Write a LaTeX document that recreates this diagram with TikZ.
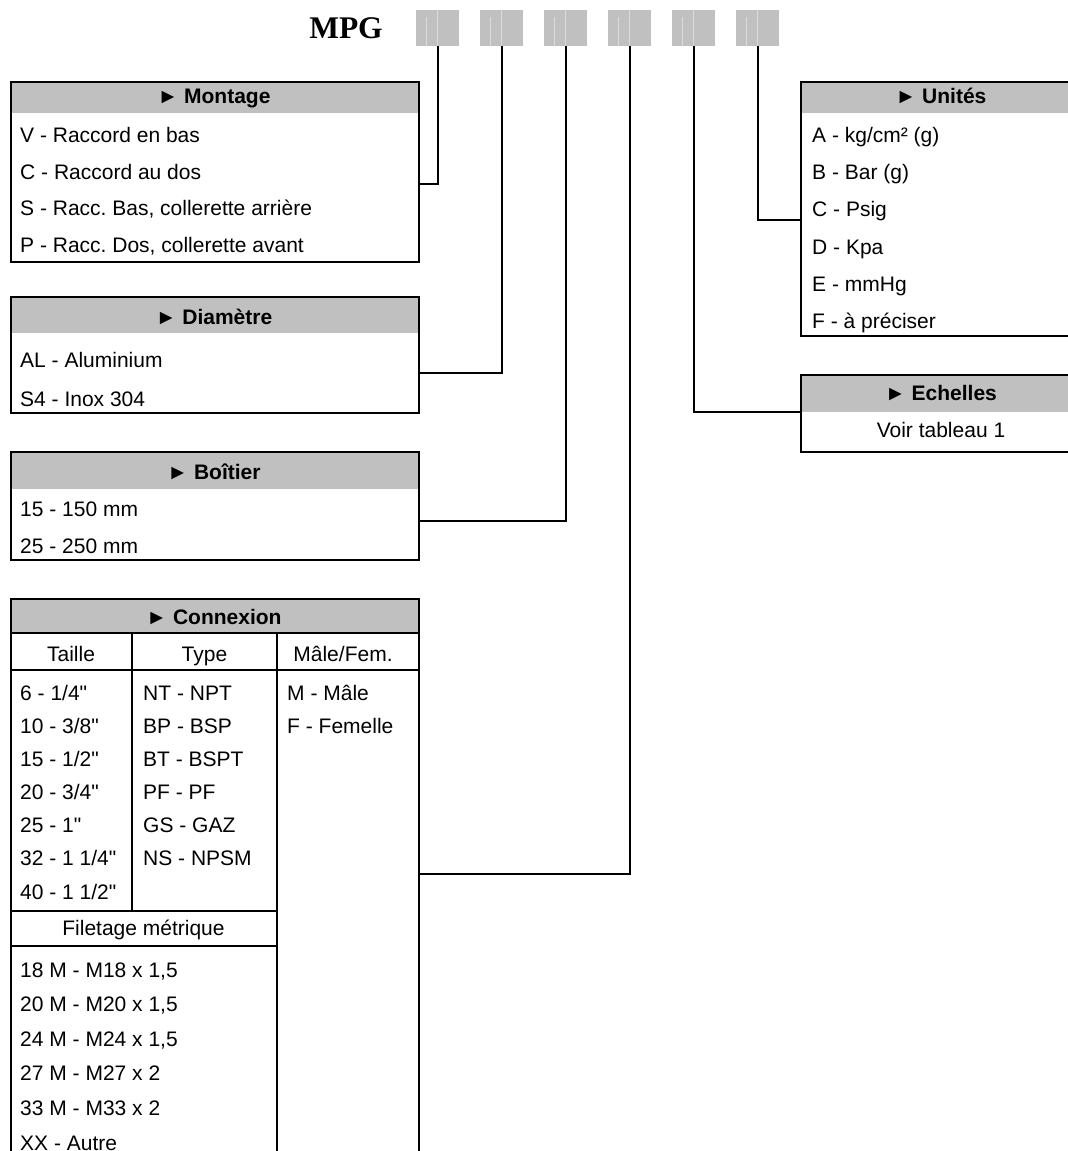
\documentclass[tikz,border=0pt]{standalone}
\usepackage{fontspec}
\setmainfont{Liberation Sans}[Ligatures=TeXOff]
\newfontfamily\serifbold{Liberation Serif}
\usetikzlibrary{positioning, calc}
\definecolor{cellgray}{HTML}{C0C0C0}
\frenchspacing
\tikzset{
    code_box/.style={
        rectangle, fill=cellgray, inner sep=0pt, anchor=north west,
        minimum width=43pt, minimum height=36pt
    },
    panel_box/.style={
        rectangle, draw=black, line width=2.4pt, inner sep=0pt, anchor=north west
    },
    head_band/.style={
        rectangle, fill=cellgray, inner sep=0pt, anchor=north west
    },
    head_txt/.style={
        font=\bfseries\fontsize{21}{24}\selectfont, anchor=base, inner sep=0pt
    },
    row_txt/.style={
        font=\fontsize{21}{24}\selectfont, anchor=base west, inner sep=0pt
    },
    mid_txt/.style={
        font=\fontsize{21}{24}\selectfont, anchor=base, inner sep=0pt
    },
    link_line/.style={draw=black, line width=2pt},
    grid_line/.style={draw=black, line width=1.8pt}
}

\begin{document}
\begin{tikzpicture}[x=1pt, y=-1pt]
    \clip (0,0) rectangle (1068,1151);
    \fill[white] (0,0) rectangle (1068,1151);

    % code header
    \node[font=\serifbold\bfseries\fontsize{31.5}{34}\selectfont, anchor=base, inner sep=0pt] (mpg) at (346,38) {MPG};
    \foreach \i in {1,...,6} {
        \node[code_box] (code\i) at ({416+64*(\i-1)}, 10) {};
        \draw[white, opacity=0.45, line width=0.8pt]
            ([xshift=10pt, yshift=-7pt]code\i.north west) -- ([xshift=10pt]code\i.south west)
            ([xshift=21pt]code\i.north west) -- ([xshift=21pt]code\i.south west);
    }

    % Montage
    \node[head_band, minimum width=408pt, minimum height=32pt] (montage-band) at (10,81) {};
    \node[panel_box, minimum width=408pt, minimum height=180pt] (montage) at (10,81) {};
    \node[head_txt] (montage-title) at (214,103) {► Montage};
    \foreach \txt [count=\i] in {V - Raccord en bas, C - Raccord au dos,
        {S - Racc. Bas, collerette arrière}, {P - Racc. Dos, collerette avant}}
        \node[row_txt] (montage-\i) at (20, {142.5+36.7*(\i-1)}) {\txt};

    % Diametre
    \node[head_band, minimum width=408pt, minimum height=37pt] (diametre-band) at (10,296) {};
    \node[panel_box, minimum width=408pt, minimum height=116pt] (diametre) at (10,296) {};
    \node[head_txt] (diametre-title) at (214,324) {► Diamètre};
    \node[row_txt] (diametre-1) at (20,367) {AL - Aluminium};
    \node[row_txt] (diametre-2) at (20,406) {S4 - Inox 304};

    % Boitier
    \node[head_band, minimum width=408pt, minimum height=38pt] (boitier-band) at (10,451) {};
    \node[panel_box, minimum width=408pt, minimum height=108pt] (boitier) at (10,451) {};
    \node[head_txt] (boitier-title) at (214,479) {► Boîtier};
    \node[row_txt] (boitier-1) at (20,516) {15 - 150 mm};
    \node[row_txt] (boitier-2) at (20,553) {25 - 250 mm};

    % Connexion
    \node[head_band, minimum width=408pt, minimum height=35pt] (connexion-band) at (10,598) {};
    \node[panel_box, minimum width=408pt, minimum height=600pt] (connexion) at (10,598) {};
    \node[head_txt] (connexion-title) at (214,624) {► Connexion};
    \draw[grid_line] (10,633) -- (418,633);
    \draw[grid_line] (10,670) -- (418,670);
    \draw[grid_line] (132,633) -- (132,911);
    \draw[grid_line] (277,633) -- (277,1200);
    \draw[grid_line] (10,911) -- (277,911);
    \draw[grid_line] (10,946) -- (277,946);
    \node[mid_txt] (col-taille) at (71,661) {Taille};
    \node[mid_txt] (col-type) at (204.5,661) {Type};
    \node[mid_txt] (col-sexe) at (343,661) {Mâle/Fem.};
    \foreach \txt [count=\i] in {6 - 1/4", 10 - 3/8", 15 - 1/2", 20 - 3/4",
        25 - 1", 32 - 1 1/4", 40 - 1 1/2"}
        \node[row_txt] (taille-\i) at (20, {700+33.17*(\i-1)}) {\txt};
    \foreach \txt [count=\i] in {NT - NPT, BP - BSP, BT - BSPT, PF - PF, GS - GAZ, NS - NPSM}
        \node[row_txt] (type-\i) at (143, {700+33.17*(\i-1)}) {\txt};
    \node[row_txt] (sexe-1) at (287,700) {M - Mâle};
    \node[row_txt] (sexe-2) at (287,733.17) {F - Femelle};
    \node[mid_txt] (filetage) at (143.5,935) {Filetage métrique};
    \foreach \txt [count=\i] in {{18 M - M18 x 1,5}, {20 M - M20 x 1,5}, {24 M - M24 x 1,5},
        27 M - M27 x 2, 33 M - M33 x 2, XX - Autre}
        \node[row_txt] (metrique-\i) at (20, {977+34.6*(\i-1)}) {\txt};

    % Unites
    \node[head_band, minimum width=282pt, minimum height=32pt] (unites-band) at (800,81) {};
    \node[panel_box, minimum width=282pt, minimum height=254pt] (unites) at (800,81) {};
    \node[head_txt] (unites-title) at (941,103) {► Unités};
    \foreach \txt [count=\i] in {A - kg/cm² (g), B - Bar (g), C - Psig, D - Kpa, E - mmHg, F - à préciser}
        \node[row_txt] (unites-\i) at (812, {142.5+37.2*(\i-1)}) {\txt};

    % Echelles
    \node[head_band, minimum width=282pt, minimum height=38pt] (echelles-band) at (800,374) {};
    \node[panel_box, minimum width=282pt, minimum height=77pt] (echelles) at (800,374) {};
    \node[head_txt] (echelles-title) at (941,400) {► Echelles};
    \node[mid_txt] (echelles-1) at (941,437) {Voir tableau 1};

    % links
    \coordinate (montage-in) at (418,184);
    \coordinate (diametre-in) at (418,373);
    \coordinate (boitier-in) at (418,521);
    \coordinate (connexion-in) at (418,874);
    \coordinate (echelles-in) at (800,412);
    \coordinate (unites-in) at (800,220);
    \draw[link_line] (code1.south) |- (montage-in);
    \draw[link_line] (code2.south) |- (diametre-in);
    \draw[link_line] (code3.south) |- (boitier-in);
    \draw[link_line] (code4.south) |- (connexion-in);
    \draw[link_line] (code5.south) |- (echelles-in);
    \draw[link_line] (code6.south) |- (unites-in);
\end{tikzpicture}
\end{document}
